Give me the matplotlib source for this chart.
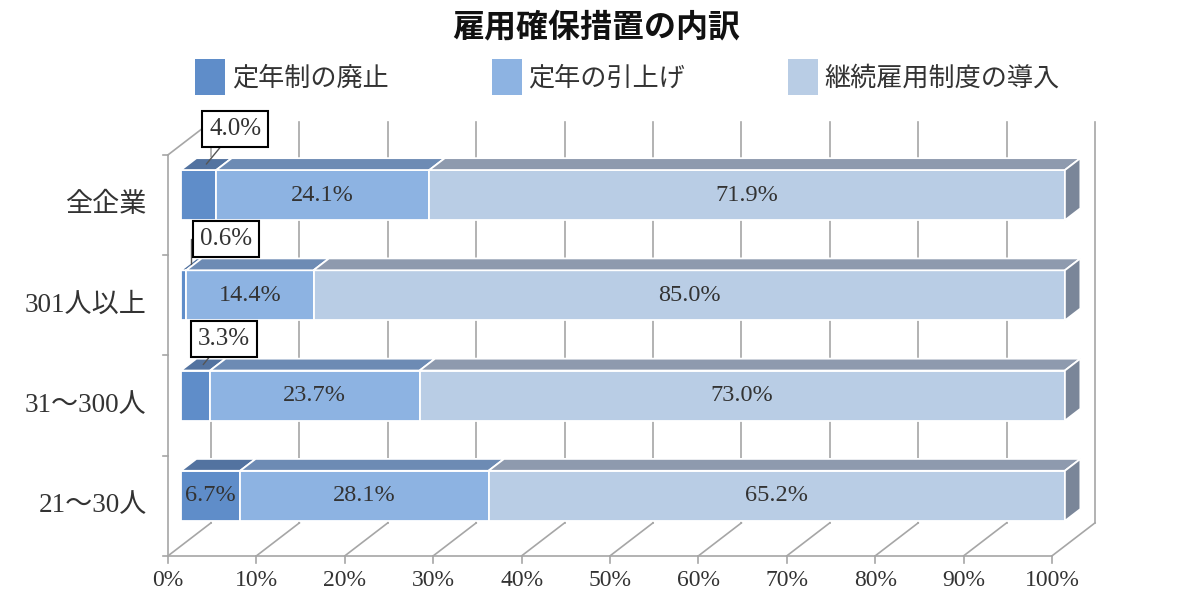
import matplotlib
matplotlib.use("Agg")
import matplotlib.pyplot as plt
from matplotlib.patches import Polygon, Patch

# data
categories = ["全企業", "301人以上", "31～300人", "21～30人"]
series_names = ["定年制の廃止", "定年の引上げ", "継続雇用制度の導入"]
abolish = [4.0, 0.6, 3.3, 6.7]
raise_age = [24.1, 14.4, 23.7, 28.1]
continued = [71.9, 85.0, 73.0, 65.2]
ticks = [0, 10, 20, 30, 40, 50, 60, 70, 80, 90, 100]

front_colors = ["#5f8dc9", "#8db3e2", "#b9cde5"]
top_colors = ["#5373a0", "#6d8bb4", "#8e9aae"]
end_color = "#7a8699"
grid_color = "#a6a6a6"

SERIF = ["Liberation Serif", "Noto Sans CJK JP"]
SANS = ["Noto Sans CJK JP", "DejaVu Sans"]

# pixel layout of the front plane
X0_PX, PX_PER_PCT = 168, 8.84
Y0_PX, PX_PER_CAT = 205, 100.25
DX, DY = 43 / PX_PER_PCT, 33 / PX_PER_CAT   # full depth in data units
D1, D2 = 0.30, 0.66                            # bar front/back depth
H = 0.5


def proj(x, y, d):
    return (x + d * DX, y - d * DY)


fig = plt.figure(figsize=(12, 6), dpi=100)
ax = fig.add_axes([0, 0, 1, 1])
ax.set_xlim(-X0_PX / PX_PER_PCT, (1200 - X0_PX) / PX_PER_PCT)
ax.set_ylim((600 - Y0_PX) / PX_PER_CAT, -Y0_PX / PX_PER_CAT)
ax.axis("off")

n = len(categories)
top, bottom = -0.5, n - 0.5

# back wall gridlines
for t in ticks:
    (x1, y1), (x2, y2) = proj(t, top, 1), proj(t, bottom, 1)
    ax.plot([x1, x2], [y1, y2], color=grid_color, lw=1.2, zorder=1)
# floor
ax.plot([0, 100], [bottom, bottom], color=grid_color, lw=1.2, zorder=1)
for t in ticks:
    (x1, y1), (x2, y2) = proj(t, bottom, 0), proj(t, bottom, 1)
    ax.plot([x1, x2], [y1, y2], color=grid_color, lw=1.2, zorder=1)
    ax.plot([t, t], [bottom, bottom + 0.07], color=grid_color, lw=1.2, zorder=1)
    ax.text(t, bottom + 0.25, f"{t}%", ha="center", va="center",
            fontsize=17, family=SERIF, color="#333333")
# left wall
ax.plot([0, 0], [top, bottom], color=grid_color, lw=1.2, zorder=1)
(x1, y1), (x2, y2) = proj(0, top, 0), proj(0, top, 1)
ax.plot([x1, x2], [y1, y2], color=grid_color, lw=1.2, zorder=1)
for k in range(n + 1):
    ax.plot([-0.6, 0], [top + k, top + k], color=grid_color, lw=1.2, zorder=1)

for i, cat in enumerate(categories):
    ax.text(-2.4, i, cat, ha="right", va="center", fontsize=19.5,
            family=SERIF, color="#333333")
    vals = [abolish[i], raise_age[i], continued[i]]
    left = 0
    yt, yb = i - H / 2, i + H / 2
    for j, v in enumerate(vals):
        r = left + v
        front = [proj(left, yt, D1), proj(r, yt, D1), proj(r, yb, D1), proj(left, yb, D1)]
        topf = [proj(left, yt, D1), proj(r, yt, D1), proj(r, yt, D2), proj(left, yt, D2)]
        ax.add_patch(Polygon(front, closed=True, fc=front_colors[j], ec="white", lw=1.3, zorder=3))
        ax.add_patch(Polygon(topf, closed=True, fc=top_colors[j], ec="white", lw=1.3, zorder=3))
        cx, cy = proj((left + r) / 2, i, D1)
        if v >= 5:
            ax.text(cx, cy, f"{v:.1f}%", ha="center", va="center", fontsize=17.5,
                    family=SERIF, color="#333333", zorder=5)
        else:
            ax_, ay_ = proj((left + r) / 2, yt, (D1 + D2) / 2)
            offs = {0: (29, 35), 1: (35, 25), 2: (21, 26)}[i]
            cs = "angle,angleA=0,angleB=90,rad=0" if i == 1 else "arc3"
            ax.annotate(f"{v:.1f}%", xy=(ax_, ay_), xytext=offs,
                        textcoords="offset pixels", ha="center", va="center",
                        fontsize=18, family=SERIF, color="#333333", zorder=6,
                        bbox=dict(boxstyle="square,pad=0.28", fc="white", ec="black", lw=1.5),
                        arrowprops=dict(arrowstyle="-", color="#555555", lw=1.0,
                                        connectionstyle=cs, shrinkA=0, shrinkB=0))
        left = r
    endf = [proj(left, yt, D1), proj(left, yb, D1), proj(left, yb, D2), proj(left, yt, D2)]
    ax.add_patch(Polygon(endf, closed=True, fc=end_color, ec="white", lw=1.3, zorder=3))

# title and legend
fig.text(0.497, 0.955, "雇用確保措置の内訳", ha="center", va="center",
         fontsize=23, fontweight="bold", family=SANS, color="#111111")
handles = [Patch(fc=c, ec="none") for c in front_colors]
leg = fig.legend(handles, series_names, loc="center", bbox_to_anchor=(0.523, 0.871),
                 ncol=3, frameon=False, handlelength=1.15, handleheight=1.75,
                 handletextpad=0.25, columnspacing=3.95,
                 prop={"family": SANS, "size": 18.8})
for t in leg.get_texts():
    t.set_color("#333333")

fig.savefig("out.png", dpi=100, facecolor="white")
